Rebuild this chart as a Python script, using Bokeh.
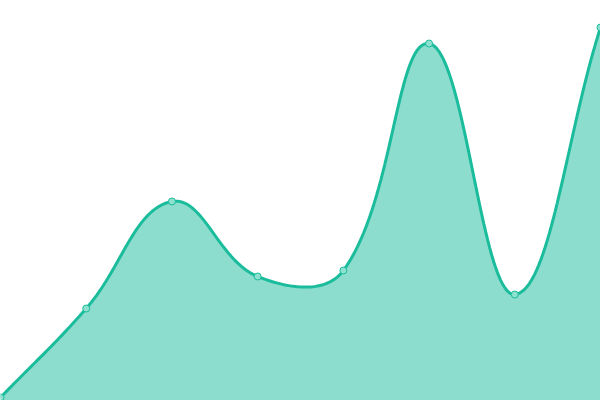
import numpy as np
from bokeh.plotting import figure
from bokeh.models import Range1d
from bokeh.embed import file_html
from bokeh.resources import INLINE

# data
labels = ["1", "2", "3", "4", "5", "6", "7", "8"]
values = [3, 92, 199, 124, 130, 357, 106, 373]

W, H = 600, 400
X_MAX = len(values) - 1
Y_MAX = 400.0
TENSION = 0.4

xs = np.arange(len(values), dtype=float)

def to_px(x, y):
    return x * W / X_MAX, y * H / Y_MAX

def from_px(px, py):
    return px * X_MAX / W, py * Y_MAX / H

pts = [to_px(x, y) for x, y in zip(xs, values)]

# Chart.js style spline control points (tension 0.4), computed in pixel space
ctrl = []
n = len(pts)
for i in range(n):
    prev = pts[i - 1] if i > 0 else pts[i]
    cur = pts[i]
    nxt = pts[i + 1] if i < n - 1 else pts[i]
    d01 = np.hypot(cur[0] - prev[0], cur[1] - prev[1])
    d12 = np.hypot(nxt[0] - cur[0], nxt[1] - cur[1])
    tot = d01 + d12
    s01 = d01 / tot if tot else 0
    s12 = d12 / tot if tot else 0
    fa, fb = TENSION * s01, TENSION * s12
    cp_prev = (cur[0] - fa * (nxt[0] - prev[0]), cur[1] - fa * (nxt[1] - prev[1]))
    cp_next = (cur[0] + fb * (nxt[0] - prev[0]), cur[1] + fb * (nxt[1] - prev[1]))
    clamp = lambda p: (min(max(p[0], 0), W), min(max(p[1], 0), H))
    ctrl.append((clamp(cp_prev), clamp(cp_next)))

cx, cy = [], []
t = np.linspace(0, 1, 40)
for i in range(n - 1):
    p0 = np.array(pts[i]); p3 = np.array(pts[i + 1])
    p1 = np.array(ctrl[i][1]); p2 = np.array(ctrl[i + 1][0])
    seg = ((1 - t) ** 3)[:, None] * p0 + (3 * (1 - t) ** 2 * t)[:, None] * p1 \
        + (3 * (1 - t) * t ** 2)[:, None] * p2 + (t ** 3)[:, None] * p3
    if i > 0:
        seg = seg[1:]
    for px, py in seg:
        x, y = from_px(px, py)
        cx.append(x); cy.append(y)

p = figure(width=W, height=H, output_backend="svg", toolbar_location=None,
           x_range=Range1d(0, X_MAX), y_range=Range1d(0, Y_MAX),
           min_border=0, min_border_left=0, min_border_right=0,
           min_border_top=0, min_border_bottom=0)
p.axis.visible = False
p.grid.visible = False
p.outline_line_color = None
p.background_fill_color = "white"
p.border_fill_color = "white"

p.varea(x=cx, y1=[0] * len(cx), y2=cy, fill_color="#1abc9c", fill_alpha=0.5)
p.line(cx, cy, line_color="#1abc9c", line_width=3)
p.scatter(xs, values, size=7, marker="circle", fill_color="#8ee0cf",
          line_color="#1abc9c", line_width=1)

open("out.html", "w").write(file_html(p, INLINE))
